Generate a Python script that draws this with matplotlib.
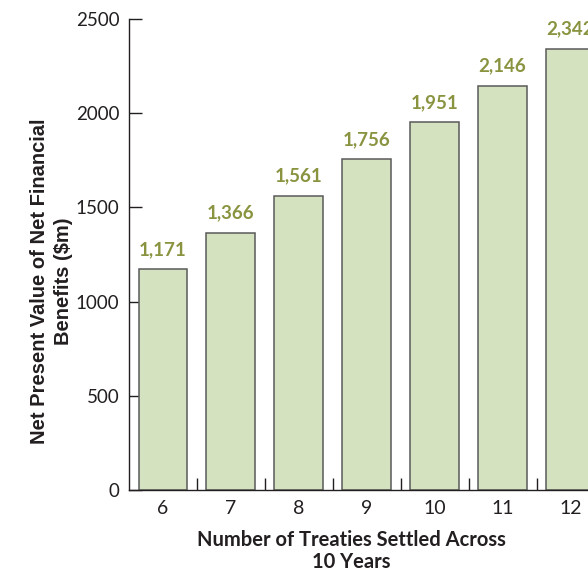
import matplotlib
matplotlib.use("Agg")
import matplotlib.pyplot as plt

# data
treaties = [6, 7, 8, 9, 10, 11, 12]
npv = [1171, 1366, 1561, 1756, 1951, 2146, 2342]
value_labels = ["1,171", "1,366", "1,561", "1,756", "1,951", "2,146", "2,342"]
yticks = [0, 500, 1000, 1500, 2000, 2500]

BAR_COLOR = "#d4e2c0"
EDGE_COLOR = "#5a5a5a"
LABEL_COLOR = "#8a9440"
TEXT_COLOR = "#231f20"

plt.rcParams['font.family'] = ['Lato', 'DejaVu Sans']

fig = plt.figure(figsize=(5.88, 5.73), dpi=100)
# axes run past the right edge of the figure, as in the reference
ax = fig.add_axes([0.2194, 0.1449, 0.8086, 0.8219])

ax.bar(treaties, npv, width=0.72, color=BAR_COLOR, edgecolor=EDGE_COLOR,
       linewidth=1.1, zorder=2)

for x, y, lab in zip(treaties, npv, value_labels):
    ax.text(x, y + 60, lab, ha='center', va='bottom', fontsize=13.5,
            fontweight='bold', color=LABEL_COLOR)

ax.set_xlim(5.5, 12.5)
ax.set_ylim(0, 2500)

ax.set_yticks(yticks)
ax.set_yticklabels([str(v) for v in yticks])
ax.tick_params(axis='y', direction='in', length=9, width=1.0,
               color=TEXT_COLOR, labelsize=13.5, labelcolor=TEXT_COLOR, pad=7)

# x ticks sit between the categories, labels at bar centres
ax.set_xticks([t + 0.5 for t in treaties[:-1]])
ax.set_xticklabels([])
ax.tick_params(axis='x', which='major', direction='in', length=9, width=1.0,
               color=TEXT_COLOR)
ax.set_xticks(treaties, minor=True)
ax.set_xticklabels([str(t) for t in treaties], minor=True)
ax.tick_params(axis='x', which='minor', length=0, labelsize=14,
               labelcolor=TEXT_COLOR, pad=7)

for side in ['top', 'right']:
    ax.spines[side].set_visible(False)
for side in ['left', 'bottom']:
    ax.spines[side].set_linewidth(1.0)
    ax.spines[side].set_color(TEXT_COLOR)

fig.text(0.597, 0.038, "Number of Treaties Settled Across\n10 Years",
         ha='center', va='center', fontsize=14.5, fontweight='bold',
         color=TEXT_COLOR, linespacing=1.15)

fig.text(0.088, 0.51, "Net Present Value of Net Financial\nBenefits ($m)",
         ha='center', va='center', rotation=90, fontsize=14.5,
         fontweight='bold', color=TEXT_COLOR, linespacing=1.3,
         family=['Liberation Sans', 'DejaVu Sans'])

fig.savefig("out.png", dpi=100)
